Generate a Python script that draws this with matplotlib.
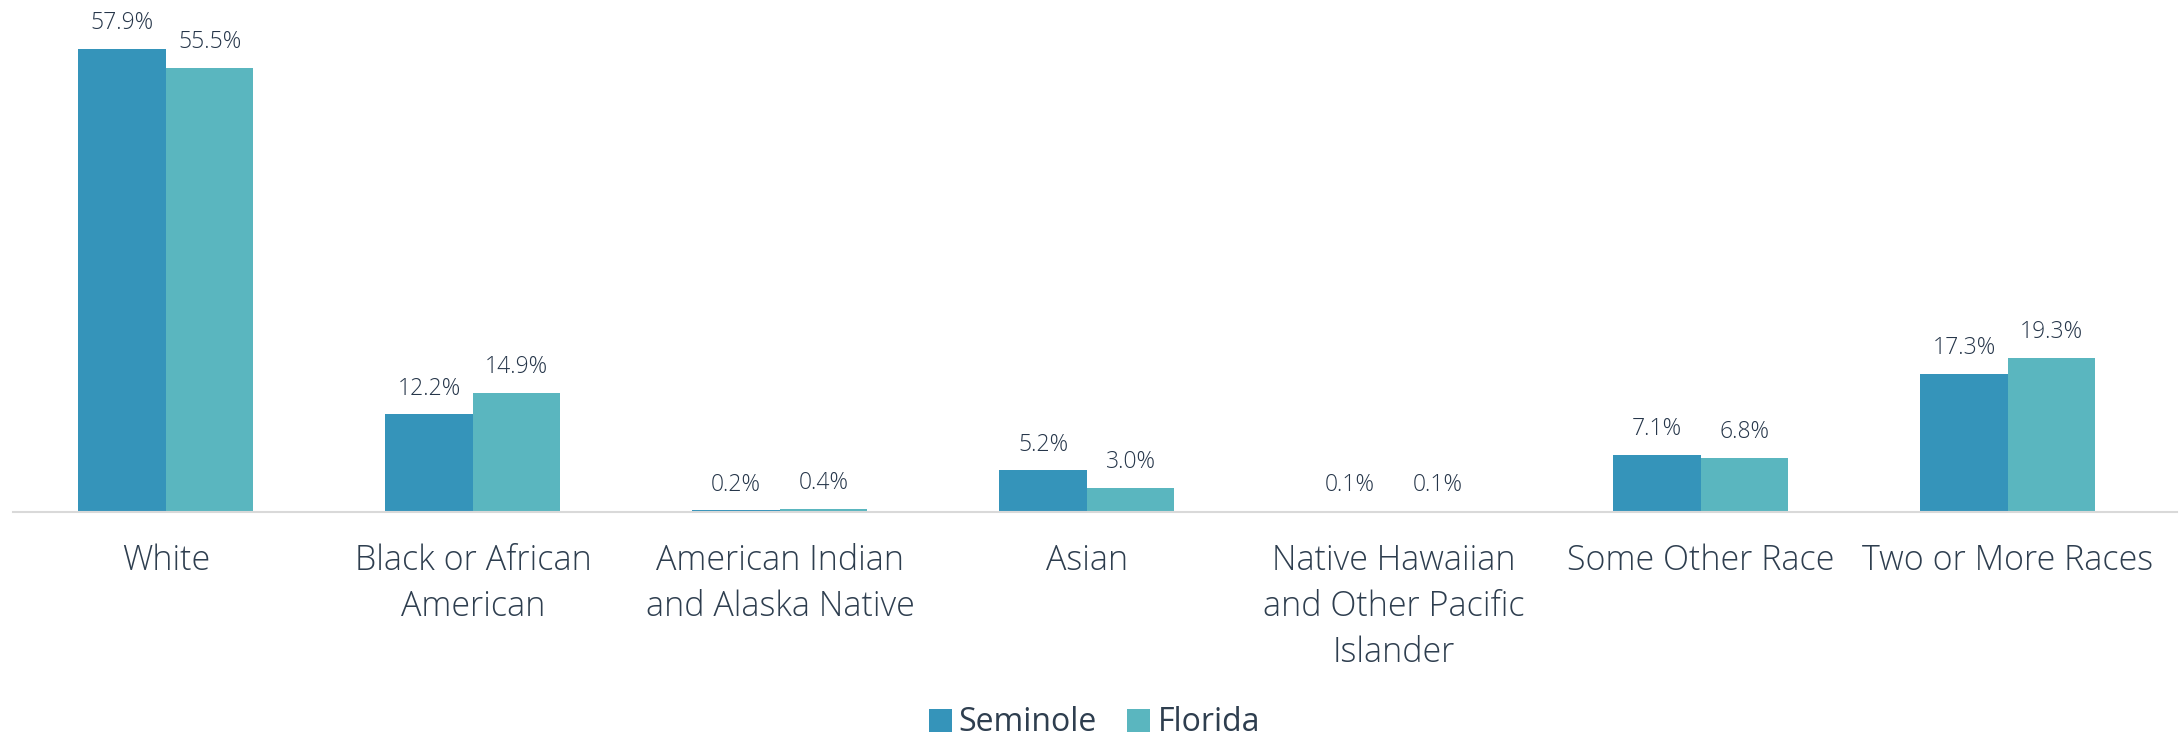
import matplotlib
matplotlib.use("Agg")
import matplotlib.pyplot as plt
import numpy as np

categories = ["White", "Black or African\nAmerican", "American Indian\nand Alaska Native",
              "Asian", "Native Hawaiian\nand Other Pacific\nIslander", "Some Other Race",
              "Two or More Races"]
seminole = [57.9, 12.2, 0.2, 5.2, 0.1, 7.1, 17.3]
florida = [55.5, 14.9, 0.4, 3.0, 0.1, 6.8, 19.3]

c_sem = "#3594ba"
c_fl = "#5ab6bf"
txt = "#2e3e4f"

plt.rcParams['font.family'] = ['Open Sans', 'DejaVu Sans']

fig = plt.figure(figsize=(21.8, 7.35), dpi=100)
ax = fig.add_axes([12.5 / 2180, 223 / 735, 2164 / 2180, 496 / 735])

x = np.arange(len(categories))
w = 0.285
b1 = ax.bar(x - w / 2, seminole, w, color=c_sem, label="Seminole")
b2 = ax.bar(x + w / 2, florida, w, color=c_fl, label="Florida")

for bars, vals in ((b1, seminole), (b2, florida)):
    for r, v in zip(bars, vals):
        ax.annotate(f"{v:.1f}%", (r.get_x() + r.get_width() / 2, v),
                    xytext=(0, 10), textcoords="offset points",
                    ha="center", va="bottom", fontsize=16.5, color="#26364a",
                    fontweight="light")

ax.set_xlim(-0.5, 6.55)
ax.set_ylim(0, 62)
ax.set_yticks([])
for s in ["top", "right", "left"]:
    ax.spines[s].set_visible(False)
ax.spines["bottom"].set_color("#d9d9d9")
ax.spines["bottom"].set_linewidth(1.5)
ax.set_xticks(x)
ax.set_xticklabels(categories, fontsize=24.5, color=txt, va="top", linespacing=1.42,
                   fontweight="light")
ax.tick_params(axis="x", length=0, pad=23)

fig.legend(handles=[b1, b2], loc="lower center", bbox_to_anchor=(0.502, -0.045),
           ncol=2, frameon=False, fontsize=23, labelcolor=txt,
           handlelength=0.72, handleheight=0.72, handletextpad=0.22, columnspacing=0.95)

fig.savefig("out.png", dpi=100)
